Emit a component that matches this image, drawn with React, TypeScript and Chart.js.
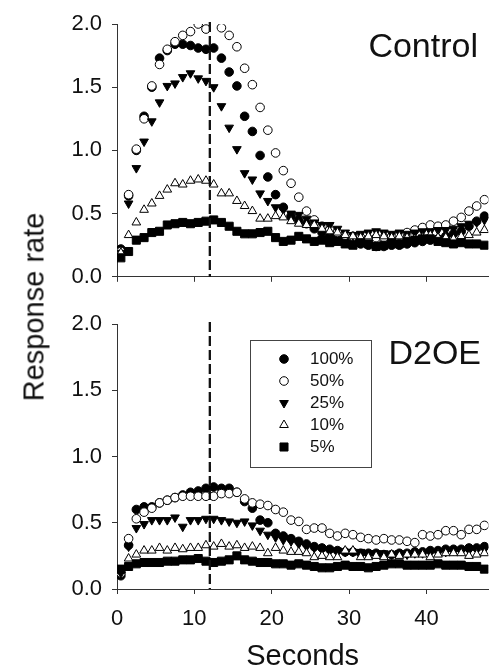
import React, { useEffect, useRef } from "react";
import { Chart, registerables } from "chart.js";
import { drawPoint } from "chart.js/helpers";

Chart.register(...registerables);

// ---------------- data ----------------
const SECONDS = [
  0.5, 1.5, 2.5, 3.5, 4.5, 5.5, 6.5, 7.5, 8.5, 9.5, 10.5, 11.5, 12.5, 13.5, 14.5, 15.5,
  16.5, 17.5, 18.5, 19.5, 20.5, 21.5, 22.5, 23.5, 24.5, 25.5, 26.5, 27.5, 28.5, 29.5, 30.5, 31.5,
  32.5, 33.5, 34.5, 35.5, 36.5, 37.5, 38.5, 39.5, 40.5, 41.5, 42.5, 43.5, 44.5, 45.5, 46.5, 47.5,
];

const X_TICKS = [0, 10, 20, 30, 40];
const Y_TICKS = [0, 0.5, 1.0, 1.5, 2.0];
const STIMULUS_TIME = 12;
const SERIES_LABELS = ["100%", "50%", "25%", "10%", "5%"];
const PANEL_TITLES = ["Control", "D2OE"];
const X_TITLE = "Seconds";
const Y_TITLE = "Response rate";

// Control panel
const CONTROL_100 = [
  0.22, 0.64, 1.0, 1.27, 1.5, 1.73, 1.79, 1.84, 1.84, 1.83, 1.81, 1.8, 1.81, 1.73, 1.62, 1.51,
  1.27, 1.15, 0.96, 0.79, 0.65, 0.55, 0.48, 0.45, 0.42, 0.38, 0.35, 0.32, 0.3, 0.28, 0.27, 0.26,
  0.25, 0.24, 0.24, 0.25, 0.25, 0.26, 0.27, 0.28, 0.29, 0.3, 0.32, 0.34, 0.36, 0.4, 0.44, 0.48,
];
const CONTROL_50 = [
  0.2, 0.65, 1.01, 1.25, 1.51, 1.68, 1.8, 1.86, 1.91, 1.94, 2.0, 1.96, null, 1.97, 1.91, 1.82,
  1.65, 1.52, 1.34, 1.16, 0.98, 0.84, 0.74, 0.63, 0.52, 0.45, 0.4, 0.37, 0.35, 0.33, 0.32, 0.31,
  0.3, 0.31, 0.31, 0.32, 0.33, 0.35, 0.37, 0.39, 0.41, 0.4, 0.41, 0.44, 0.47, 0.52, 0.56, 0.61,
];
const CONTROL_25 = [
  0.19, 0.58, 0.86, 1.07, 1.23, 1.38, 1.51, 1.53, 1.58, 1.61, 1.57, 1.55, 1.5, 1.35, 1.18, 1.01,
  0.82, 0.77, 0.66, 0.6, 0.55, 0.53, 0.5, 0.49, 0.46, 0.43, 0.41, 0.41, 0.38, 0.35, 0.33, 0.34,
  0.35, 0.36, 0.35, 0.34, 0.35, 0.34, 0.35, 0.36, 0.36, 0.37, 0.37, 0.38, 0.4, 0.42, 0.43, 0.45,
];
const CONTROL_10 = [
  0.19, 0.33, 0.43, 0.53, 0.58, 0.64, 0.69, 0.74, 0.73, 0.76, 0.77, 0.76, 0.73, 0.66, 0.66, 0.6,
  0.56, 0.52, 0.46, 0.46, 0.48, 0.47, 0.44, 0.42, 0.41, 0.41, 0.38, 0.36, 0.35, 0.33, 0.32, 0.31,
  0.32, 0.33, 0.32, 0.31, 0.32, 0.31, 0.3, 0.31, 0.33, 0.31, 0.31, 0.3, 0.32, 0.33, 0.35, 0.37,
];
const CONTROL_5 = [
  0.15, 0.2, 0.29, 0.31, 0.35, 0.36, 0.41, 0.42, 0.43, 0.42, 0.43, 0.44, 0.45, 0.43, 0.4, 0.36,
  0.34, 0.34, 0.35, 0.36, 0.31, 0.28, 0.29, 0.32, 0.3, 0.28, 0.29, 0.27, 0.28, 0.26, 0.25, 0.27,
  0.26, 0.24, 0.25, 0.27, 0.26, 0.28, 0.29, 0.3, 0.3, 0.28, 0.27, 0.26, 0.27, 0.26, 0.26, 0.25,
];

// D2OE panel
const D2OE_100 = [
  0.1, 0.33, 0.6, 0.62, 0.62, 0.65, 0.67, 0.69, 0.71, 0.73, 0.74, 0.76, 0.77, 0.76, 0.76, 0.73,
  0.66, 0.61, 0.52, 0.5, 0.42, 0.4, 0.38, 0.36, 0.34, 0.32, 0.31, 0.3, 0.29, 0.28, 0.28, 0.27,
  0.27, 0.27, 0.26, 0.26, 0.27, 0.27, 0.28, 0.28, 0.29, 0.29, 0.3, 0.3, 0.3, 0.31, 0.31, 0.32,
];
const D2OE_50 = [
  0.12, 0.38, 0.53, 0.58, 0.61, 0.65, 0.67, 0.69, 0.7, 0.7, 0.7, 0.7, 0.7, 0.72, 0.72, 0.73,
  0.68, 0.65, 0.64, 0.63, 0.6, 0.58, 0.52, 0.51, 0.45, 0.46, 0.46, 0.42, 0.4, 0.42, 0.41, 0.39,
  0.38, 0.37, 0.38, 0.37, 0.37, 0.36, 0.35, 0.41, 0.4, 0.41, 0.44, 0.44, 0.41, 0.45, 0.45, 0.48,
];
const D2OE_25 = [
  0.12, 0.32, 0.46, 0.49, 0.52, 0.52, 0.52, 0.54, 0.47, 0.52, 0.52, 0.53, 0.53, 0.52, 0.51, 0.5,
  0.51, 0.48, 0.44, 0.41, 0.39, 0.37, 0.36, 0.34, 0.32, 0.31, 0.3, 0.29, 0.29, 0.28, 0.28, 0.28,
  0.27, 0.27, 0.27, 0.26, 0.27, 0.26, 0.27, 0.27, 0.28, 0.28, 0.28, 0.29, 0.29, 0.29, 0.3, 0.3,
];
const D2OE_10 = [
  0.14, 0.23, 0.26, 0.29, 0.29, 0.31, 0.29, 0.31, 0.3, 0.31, 0.31, 0.33, 0.32, 0.34, 0.32, 0.33,
  0.31, 0.32, 0.31, 0.27, 0.31, 0.29, 0.28, 0.28, 0.27, 0.24, 0.25, 0.24, 0.24, 0.29, 0.29, 0.24,
  0.24, 0.25, 0.24, 0.26, 0.25, 0.26, 0.26, 0.26, 0.24, 0.26, 0.27, 0.27, 0.27, 0.25, 0.26, 0.27,
];
const D2OE_5 = [
  0.15, 0.17, 0.19, 0.2, 0.2, 0.2, 0.21, 0.21, 0.22, 0.22, 0.23, 0.21, 0.2, 0.21, 0.22, 0.25,
  0.22, 0.21, 0.2, 0.2, 0.19, 0.19, 0.18, 0.19, 0.18, 0.17, 0.16, 0.16, 0.17, 0.18, 0.17, 0.17,
  0.16, 0.17, 0.18, 0.19, 0.19, 0.18, 0.18, 0.18, 0.18, 0.19, 0.18, 0.18, 0.18, 0.17, 0.17, 0.15,
];

const CONTROL_SERIES = [CONTROL_100, CONTROL_50, CONTROL_25, CONTROL_10, CONTROL_5];
const D2OE_SERIES = [D2OE_100, D2OE_50, D2OE_25, D2OE_10, D2OE_5];

// ---------------- styles ----------------
const FONT = "'Liberation Sans', Arial, Helvetica, sans-serif";
const AXIS_COLOR = "#333";
const MARKERS = [
  { pointStyle: "circle", radius: 4.3, rotation: 0, fill: "#000", order: 5 },
  { pointStyle: "circle", radius: 4.3, rotation: 0, fill: "#fff", order: 4 },
  { pointStyle: "triangle", radius: 5, rotation: 180, fill: "#000", order: 3 },
  { pointStyle: "triangle", radius: 5, rotation: 0, fill: "#fff", order: 2 },
  { pointStyle: "rect", radius: 5.7, rotation: 0, fill: "#000", order: 1 },
];

function buildDatasets(series: (number | null)[][]) {
  return series.map((vals, i) => ({
    label: SERIES_LABELS[i],
    data: SECONDS.map((x, j) => ({ x, y: vals[j] })),
    showLine: false,
    pointStyle: MARKERS[i].pointStyle,
    pointRadius: MARKERS[i].radius,
    pointRotation: MARKERS[i].rotation,
    pointBackgroundColor: MARKERS[i].fill,
    pointBorderColor: "#000",
    pointBorderWidth: 1,
    backgroundColor: MARKERS[i].fill,
    borderColor: "#000",
    order: MARKERS[i].order,
  }));
}

const dashedLinePlugin = {
  id: "stimulusLine",
  afterDatasetsDraw(chart: any) {
    const { ctx, chartArea, scales } = chart;
    const x = scales.x.getPixelForValue(STIMULUS_TIME);
    ctx.save();
    ctx.strokeStyle = "#111";
    ctx.lineWidth = 2.3;
    ctx.setLineDash([10, 4]);
    ctx.beginPath();
    ctx.moveTo(x, chartArea.top - 2);
    ctx.lineTo(x, chartArea.bottom);
    ctx.stroke();
    ctx.restore();
  },
};

function panelTitlePlugin(text: string, x: number, y: number) {
  return {
    id: "panelTitle",
    afterDraw(chart: any) {
      const { ctx } = chart;
      ctx.save();
      ctx.fillStyle = "#111";
      ctx.font = `34px ${FONT}`;
      ctx.textAlign = "right";
      ctx.textBaseline = "middle";
      ctx.fillText(text, x, y);
      ctx.restore();
    },
  };
}

const legendPlugin = {
  id: "boxLegend",
  afterDraw(chart: any) {
    const { ctx } = chart;
    const left = 250.5, top = 40.5, w = 121, h = 127;
    ctx.save();
    ctx.fillStyle = "#fff";
    ctx.fillRect(left, top, w, h);
    ctx.strokeStyle = "#444";
    ctx.lineWidth = 1;
    ctx.strokeRect(left, top, w, h);
    SERIES_LABELS.forEach((label, i) => {
      const y = 59 + i * 22;
      ctx.fillStyle = MARKERS[i].fill;
      ctx.strokeStyle = "#000";
      ctx.lineWidth = 1;
      drawPoint(ctx, {
        pointStyle: MARKERS[i].pointStyle as any,
        rotation: MARKERS[i].rotation,
        radius: MARKERS[i].radius,
        borderWidth: 1,
      } as any, 284, y);
      ctx.fillStyle = "#111";
      ctx.font = `17px ${FONT}`;
      ctx.textAlign = "left";
      ctx.textBaseline = "middle";
      ctx.fillText(label, 310, y);
    });
    ctx.restore();
  },
};

function makeOptions(isBottom: boolean, canvasHeight: number) {
  const axisBottom = 288 + (isBottom ? 1 : 0);
  return {
    responsive: false,
    animation: false as const,
    layout: { padding: { top: 24, left: 0, right: 0, bottom: 0 } },
    plugins: { legend: { display: false }, tooltip: { enabled: false } },
    scales: {
      x: {
        type: "linear" as const,
        min: 0,
        max: 48,
        afterBuildTicks: (s: any) => {
          s.ticks = X_TICKS.map((v) => ({ value: v }));
        },
        afterFit: (s: any) => {
          s.height = canvasHeight - axisBottom;
        },
        ticks: {
          display: isBottom,
          color: "#111",
          padding: 12,
          maxRotation: 0,
          font: { family: FONT, size: 22 },
        },
        grid: { drawOnChartArea: false, drawTicks: true, tickLength: 5, color: AXIS_COLOR },
        border: { display: true, color: AXIS_COLOR, width: 1 },
        title: {
          display: isBottom,
          text: X_TITLE,
          color: "#111",
          font: { family: FONT, size: 29, lineHeight: 1.2 },
          padding: { top: 0, bottom: 6 },
        },
      },
      y: {
        min: 0,
        max: 2,
        afterBuildTicks: (s: any) => {
          s.ticks = Y_TICKS.map((v) => ({ value: v }));
        },
        afterFit: (s: any) => {
          s.width = 117;
        },
        ticks: {
          color: "#111",
          padding: 10,
          font: { family: FONT, size: 22 },
          callback: (v: any) => Number(v).toFixed(1),
        },
        grid: { drawOnChartArea: false, drawTicks: true, tickLength: 5, color: AXIS_COLOR },
        border: { display: true, color: AXIS_COLOR, width: 1 },
      },
    },
  };
}

const TOP_H = 300;
const BOTTOM_H = 380;

export default function App() {
  const topRef = useRef<HTMLCanvasElement | null>(null);
  const bottomRef = useRef<HTMLCanvasElement | null>(null);

  useEffect(() => {
    const charts: Chart[] = [];
    if (topRef.current) {
      charts.push(
        new Chart(topRef.current, {
          type: "scatter",
          data: { datasets: buildDatasets(CONTROL_SERIES) as any },
          options: makeOptions(false, TOP_H) as any,
          plugins: [dashedLinePlugin, panelTitlePlugin(PANEL_TITLES[0], 478, 48)],
        })
      );
    }
    if (bottomRef.current) {
      charts.push(
        new Chart(bottomRef.current, {
          type: "scatter",
          data: { datasets: buildDatasets(D2OE_SERIES) as any },
          options: makeOptions(true, BOTTOM_H) as any,
          plugins: [dashedLinePlugin, legendPlugin, panelTitlePlugin(PANEL_TITLES[1], 481, 55)],
        })
      );
    }
    return () => charts.forEach((c) => c.destroy());
  }, []);

  return (
    <div
      style={{
        position: "fixed",
        left: 0,
        top: 0,
        width: 495,
        height: 670,
        overflow: "hidden",
        background: "#fff",
      }}
    >
      <canvas
        ref={topRef}
        width={495}
        height={TOP_H}
        style={{ position: "absolute", left: 0, top: 0, width: 495, height: TOP_H }}
      />
      <canvas
        ref={bottomRef}
        width={495}
        height={BOTTOM_H}
        style={{ position: "absolute", left: 0, top: 300, width: 495, height: BOTTOM_H }}
      />
      <div
        style={{
          position: "absolute",
          left: 34,
          top: 307,
          transform: "translate(-50%, -50%) rotate(-90deg)",
          whiteSpace: "nowrap",
          fontFamily: FONT,
          fontSize: 29,
          lineHeight: 1,
          color: "#111",
        }}
      >
        {Y_TITLE}
      </div>
    </div>
  );
}
